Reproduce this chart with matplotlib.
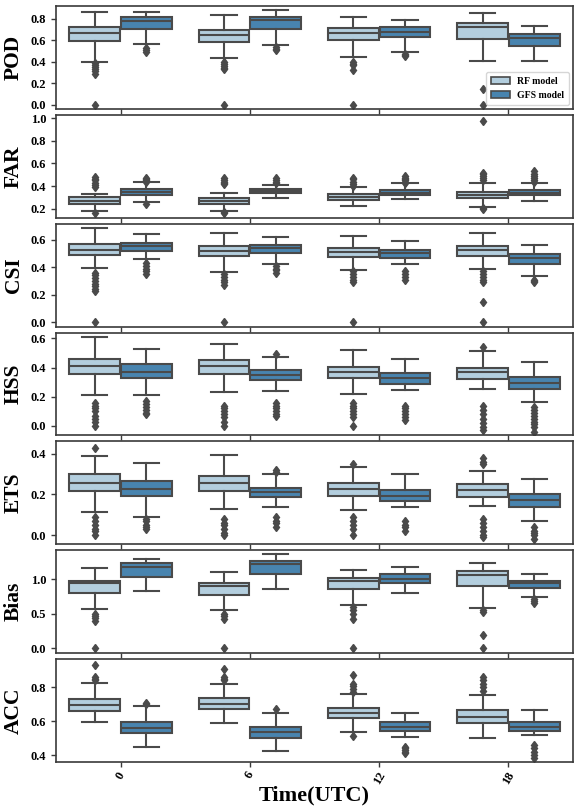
import matplotlib
matplotlib.use("Agg")
import matplotlib.pyplot as plt
from matplotlib.patches import Patch
import seaborn as sns

plt.rcParams['font.family'] = ['Liberation Serif', 'DejaVu Serif']
plt.rcParams['font.weight'] = 'bold'

times = ["0", "6", "12", "18"]
models = ["RF model", "GFS model"]
metrics = ["POD", "FAR", "CSI", "HSS", "ETS", "Bias", "ACC"]

# box stats per time: [whisker low, q1, median, q3, whisker high]
POD_RF = [[0.395, 0.594, 0.672, 0.728, 0.865], [0.439, 0.585, 0.650, 0.694, 0.837],
          [0.445, 0.603, 0.666, 0.712, 0.821], [0.404, 0.610, 0.725, 0.759, 0.858]]
POD_GFS = [[0.566, 0.706, 0.784, 0.818, 0.865], [0.557, 0.703, 0.793, 0.821, 0.880],
           [0.491, 0.628, 0.678, 0.722, 0.793], [0.404, 0.551, 0.619, 0.659, 0.734]]
FAR_RF = [[0.180, 0.244, 0.271, 0.300, 0.330], [0.180, 0.244, 0.271, 0.294, 0.339],
          [0.220, 0.280, 0.306, 0.333, 0.392], [0.218, 0.292, 0.321, 0.345, 0.427]]
FAR_GFS = [[0.256, 0.318, 0.345, 0.374, 0.436], [0.297, 0.339, 0.360, 0.377, 0.410],
           [0.283, 0.321, 0.342, 0.362, 0.424], [0.265, 0.318, 0.342, 0.368, 0.424]]
CSI_RF = [[0.398, 0.491, 0.527, 0.566, 0.687], [0.369, 0.481, 0.520, 0.554, 0.649],
          [0.379, 0.476, 0.508, 0.539, 0.627], [0.384, 0.483, 0.527, 0.554, 0.651]]
CSI_GFS = [[0.457, 0.520, 0.554, 0.576, 0.641], [0.425, 0.505, 0.542, 0.564, 0.622],
           [0.423, 0.469, 0.503, 0.522, 0.590], [0.333, 0.427, 0.464, 0.493, 0.564]]
HSS_RF = [[0.210, 0.355, 0.413, 0.462, 0.607], [0.231, 0.358, 0.411, 0.452, 0.563],
          [0.222, 0.330, 0.369, 0.404, 0.519], [0.254, 0.321, 0.369, 0.399, 0.512]]
HSS_GFS = [[0.210, 0.330, 0.372, 0.422, 0.526], [0.242, 0.318, 0.346, 0.383, 0.471],
           [0.245, 0.288, 0.330, 0.362, 0.459], [0.166, 0.254, 0.295, 0.337, 0.436]]
ETS_RF = [[0.115, 0.216, 0.257, 0.298, 0.389], [0.128, 0.218, 0.254, 0.291, 0.392],
          [0.124, 0.195, 0.226, 0.254, 0.337], [0.145, 0.189, 0.224, 0.250, 0.314]]
ETS_GFS = [[0.091, 0.195, 0.228, 0.267, 0.354], [0.137, 0.187, 0.210, 0.234, 0.301],
           [0.140, 0.167, 0.195, 0.220, 0.298], [0.068, 0.141, 0.171, 0.202, 0.278]]
BIAS_RF = [[0.563, 0.803, 0.947, 0.981, 1.159], [0.558, 0.774, 0.904, 0.942, 1.111],
           [0.625, 0.861, 0.971, 1.024, 1.130], [0.587, 0.909, 1.058, 1.125, 1.240]]
BIAS_GFS = [[0.832, 1.038, 1.183, 1.240, 1.298], [0.865, 1.072, 1.216, 1.269, 1.361],
            [0.798, 0.952, 1.010, 1.072, 1.183], [0.750, 0.880, 0.942, 0.976, 1.082]]
ACC_RF = [[0.597, 0.660, 0.697, 0.728, 0.827], [0.591, 0.671, 0.702, 0.736, 0.821],
          [0.535, 0.617, 0.646, 0.677, 0.763], [0.500, 0.591, 0.622, 0.665, 0.757]]
ACC_GFS = [[0.447, 0.529, 0.560, 0.595, 0.687], [0.425, 0.503, 0.537, 0.566, 0.650],
           [0.509, 0.544, 0.568, 0.597, 0.648], [0.519, 0.540, 0.566, 0.593, 0.663]]

# outliers per time
POD_RF_OUT = [[0.39, 0.37, 0.35, 0.33, 0.31, 0.29, 0.0], [0.40, 0.38, 0.36, 0.34, 0.33, 0.0],
              [0.40, 0.38, 0.37, 0.32, 0.0], [0.15, 0.0]]
POD_GFS_OUT = [[0.53, 0.51, 0.49], [0.54, 0.52, 0.51], [0.47, 0.46, 0.45], []]
FAR_RF_OUT = [[0.16, 0.39, 0.41, 0.43, 0.45, 0.46, 0.48], [0.17, 0.16, 0.42, 0.43, 0.44, 0.45, 0.47],
              [0.40, 0.42, 0.44, 0.46, 0.47], [0.21, 0.20, 0.45, 0.47, 0.49, 0.51, 0.52, 0.98]]
FAR_GFS_OUT = [[0.24, 0.44, 0.45, 0.46, 0.47], [0.43, 0.44, 0.45, 0.47],
               [0.43, 0.44, 0.45, 0.46, 0.47, 0.49], [0.44, 0.45, 0.47, 0.49, 0.51, 0.53]]
CSI_RF_OUT = [[0.36, 0.34, 0.32, 0.30, 0.28, 0.26, 0.24, 0.23, 0.0], [0.35, 0.33, 0.31, 0.29, 0.27, 0.0],
              [0.37, 0.35, 0.33, 0.31, 0.29, 0.0], [0.37, 0.35, 0.33, 0.31, 0.29, 0.15, 0.0]]
CSI_GFS_OUT = [[0.43, 0.41, 0.39, 0.37, 0.35], [0.41, 0.39, 0.38, 0.36],
               [0.37, 0.35, 0.33, 0.31], [0.31, 0.30, 0.29]]
HSS_RF_OUT = [[0.16, 0.14, 0.12, 0.10, 0.07, 0.05, 0.03, 0.0], [0.14, 0.12, 0.10, 0.08, 0.06, 0.03, 0.0],
              [0.16, 0.14, 0.12, 0.10, 0.08, 0.06, 0.0], [0.54, 0.14, 0.11, 0.08, 0.05, 0.02, -0.01, -0.03]]
HSS_GFS_OUT = [[0.17, 0.15, 0.13, 0.11, 0.09, 0.08], [0.49, 0.16, 0.14, 0.12, 0.10, 0.08, 0.07],
               [0.14, 0.12, 0.10, 0.08, 0.06, 0.04], [0.13, 0.11, 0.09, 0.07, 0.05, 0.03, 0.01, -0.01, -0.04]]
ETS_RF_OUT = [[0.43, 0.09, 0.07, 0.05, 0.03, 0.02, 0.0], [0.08, 0.06, 0.05, 0.03, 0.01, 0.0],
              [0.35, 0.09, 0.07, 0.05, 0.03, 0.0], [0.38, 0.36, 0.35, 0.08, 0.06, 0.04, 0.02, 0.0, -0.01]]
ETS_GFS_OUT = [[0.08, 0.07, 0.05, 0.04, 0.03], [0.32, 0.31, 0.09, 0.07, 0.06, 0.04],
               [0.07, 0.05, 0.04, 0.02], [0.04, 0.02, 0.01, 0.0, -0.02]]
BIAS_RF_OUT = [[0.50, 0.47, 0.44, 0.40, 0.0], [0.50, 0.47, 0.43, 0.0],
               [0.60, 0.55, 0.50, 0.42, 0.0], [0.55, 0.52, 0.20, 0.0]]
BIAS_GFS_OUT = [[], [], [], [0.72, 0.69, 0.65]]
ACC_RF_OUT = [[0.84, 0.85, 0.86, 0.93], [0.84, 0.85, 0.86, 0.91],
              [0.51, 0.77, 0.79, 0.81, 0.82, 0.875], [0.78, 0.80, 0.82, 0.84, 0.86]]
ACC_GFS_OUT = [[0.70, 0.71], [0.67], [0.45, 0.44, 0.43, 0.42, 0.41], [0.46, 0.44, 0.42, 0.40, 0.38]]

Y_TICKS = [[0.0, 0.2, 0.4, 0.6, 0.8], [0.2, 0.4, 0.6, 0.8, 1.0], [0.0, 0.2, 0.4, 0.6],
           [0.0, 0.2, 0.4, 0.6], [0.0, 0.2, 0.4], [0.0, 0.5, 1.0], [0.4, 0.6, 0.8]]

panels = [
    (POD_RF, POD_GFS, POD_RF_OUT, POD_GFS_OUT, (-0.04, 0.92)),
    (FAR_RF, FAR_GFS, FAR_RF_OUT, FAR_GFS_OUT, (0.12, 1.03)),
    (CSI_RF, CSI_GFS, CSI_RF_OUT, CSI_GFS_OUT, (-0.032, 0.717)),
    (HSS_RF, HSS_GFS, HSS_RF_OUT, HSS_GFS_OUT, (-0.065, 0.64)),
    (ETS_RF, ETS_GFS, ETS_RF_OUT, ETS_GFS_OUT, (-0.044, 0.46)),
    (BIAS_RF, BIAS_GFS, BIAS_RF_OUT, BIAS_GFS_OUT, (-0.07, 1.42)),
    (ACC_RF, ACC_GFS, ACC_RF_OUT, ACC_GFS_OUT, (0.359, 0.966)),
]

pal = [sns.desaturate(c, 0.75) for c in sns.color_palette("Blues", 2)]
gray = "#4a4a4a"
spine_col = "#3a3a3a"

fig, axes = plt.subplots(7, 1, figsize=(5.82, 8.09), dpi=100, sharex=True)
fig.subplots_adjust(left=56 / 582, right=573 / 582, top=1 - 6 / 809, bottom=1 - 762 / 809, hspace=0.058)

each_w = 0.8 / 2
offsets = [-0.2, 0.2]
for ax, metric, (rf, gfs, rf_out, gfs_out, ylim), yt in zip(axes, metrics, panels, Y_TICKS):
    for k, (stats_list, outs) in enumerate([(rf, rf_out), (gfs, gfs_out)]):
        stats = []
        for s, o in zip(stats_list, outs):
            stats.append(dict(whislo=s[0], q1=s[1], med=s[2], q3=s[3], whishi=s[4], fliers=o))
        pos = [i + offsets[k] for i in range(len(times))]
        ax.bxp(stats, positions=pos, widths=each_w * 0.98, patch_artist=True, showfliers=True,
               boxprops=dict(facecolor=pal[k], edgecolor=gray, linewidth=1.5),
               medianprops=dict(color=gray, linewidth=1.5),
               whiskerprops=dict(color=gray, linewidth=1.5),
               capprops=dict(color=gray, linewidth=1.5),
               flierprops=dict(marker='d', markerfacecolor=gray, markeredgecolor=gray,
                               markersize=4.5, linestyle='none'),
               manage_ticks=False)
    ax.set_xlim(-0.5, len(times) - 0.5)
    ax.set_ylim(*ylim)
    ax.set_yticks(yt)
    ax.set_yticklabels([f"{v:.1f}" for v in yt], fontsize=9, fontweight='bold')
    ax.set_ylabel(metric, fontsize=15.5, fontweight='bold')
    for sp in ax.spines.values():
        sp.set_color(spine_col)
        sp.set_linewidth(1.2)
    ax.tick_params(axis='both', colors=spine_col, labelcolor='black', length=3.5, width=1)

for a in axes:
    a.yaxis.set_label_coords(-0.062, 0.5)

axes[-1].set_xticks(range(len(times)))
axes[-1].set_xticklabels(times, rotation=60, fontsize=9, fontweight='bold')
axes[-1].tick_params(axis='x', pad=2)
axes[-1].set_xlabel("Time(UTC)", fontsize=16, fontweight='bold', labelpad=-1)

handles = [Patch(facecolor=pal[i], edgecolor=gray, linewidth=1.2, label=models[i]) for i in range(2)]
axes[0].legend(handles=handles, loc='lower right', prop=dict(size=7, weight='bold'),
               frameon=True, borderpad=0.5, handlelength=2.0, handletextpad=0.7,
               borderaxespad=0.4)

fig.savefig("out.png", dpi=100)
